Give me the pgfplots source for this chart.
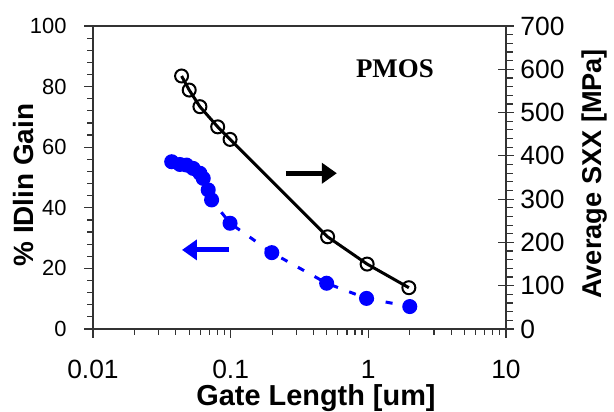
\documentclass[border=0pt]{standalone}
\usepackage{fontspec}
\setmainfont{Liberation Sans}
\newfontfamily\timesfont{Liberation Serif}
\usepackage{pgfplots}
\pgfplotsset{compat=1.18}
\usetikzlibrary{arrows.meta}
\definecolor{axisgray}{rgb}{0.2,0.2,0.2}
\begin{document}
\begin{tikzpicture}
\begin{semilogxaxis}[
  scale only axis, width=413bp, height=303bp,
  xmin=0.01, xmax=10,
  tick align=outside,
  major tick length=9bp, minor tick length=6bp,
  every tick/.style={axisgray, line width=1.2bp},
  axis line style={axisgray, line width=1.3bp},
  ymin=0, ymax=100, ytick={0,20,...,100}, minor y tick num=4,
  xtick={0.01,0.1,1,10}, xticklabels={0.01,0.1,1,10},
  yticklabels={0,20,40,60,80,100},
  xtick pos=left, ytick pos=left,
  xticklabel style={font=\fontsize{26.5}{26.5}\selectfont, yshift=-19bp},
  yticklabel style={font=\fontsize{22}{22}\selectfont, xshift=-14bp},
  ylabel={\% IDlin Gain},
  xlabel={Gate Length [um]},
  every axis y label/.style={at={(axis description cs:-0.167,0.475)}, rotate=90, anchor=center, font=\bfseries\fontsize{28}{28}\selectfont},
  every axis x label/.style={at={(axis description cs:0.54,-0.252)}, anchor=base, font=\bfseries\fontsize{29}{29}\selectfont},
  clip=false,
]
\addplot[blue, line width=3bp, dash pattern=on 7bp off 12bp, mark=*, mark size=6bp, mark options={solid, fill=blue, draw=blue}] coordinates {
(0.0373,55.2) (0.0428,54.3) (0.0478,54.1) (0.0534,53.0) (0.0598,51.4) (0.0632,49.7) (0.0687,45.9) (0.0727,42.6)
(0.099,34.9) (0.199,25.2) (0.498,15.1) (0.97,10.1) (2.0,7.4)
};
\draw[blue, line width=5bp, -{Triangle[length=15bp,width=20bp]}] (axis cs:0.0973,26.1) -- (axis cs:0.0443,26.1);
\draw[black, line width=5bp, -{Triangle[length=15bp,width=20bp]}] (axis cs:0.252,51.4) -- (axis cs:0.591,51.4);
\node[font=\timesfont\bfseries\fontsize{27}{27}\selectfont] at (axis cs:1.56,85.8) {PMOS};
\end{semilogxaxis}
\begin{semilogxaxis}[
  scale only axis, width=413bp, height=303bp,
  xmin=0.01, xmax=10,
  tick align=center,
  major tick length=16bp, minor tick length=7bp,
  every tick/.style={axisgray, line width=1.2bp},
  every minor tick/.style={xshift=3.5bp},
  axis line style={axisgray, line width=1.3bp},
  ymin=0, ymax=700, ytick={0,100,...,700}, minor y tick num=4,
  yticklabels={0,100,200,300,400,500,600,700},
  axis y line*=right, axis x line=none,
  yticklabel style={font=\fontsize{26.5}{26.5}\selectfont, xshift=3bp},
  ylabel={Average SXX [MPa]},
  every axis y label/.style={at={(axis description cs:1.2155,0.512)}, rotate=90, anchor=center, font=\bfseries\fontsize{27.3}{27.3}\selectfont},
]
\addplot[black, line width=3bp, mark=o, mark size=6.5bp, mark options={line width=2bp, fill=none}] coordinates {
(0.044,584.5) (0.050,552) (0.0598,513.6) (0.0805,467) (0.099,438) (0.506,213) (0.98,150) (1.97,95.4)
};
\end{semilogxaxis}
\pgfresetboundingbox
\path[use as bounding box] ([xshift=-93bp,yshift=-83bp]current axis.south west) rectangle ([xshift=108bp,yshift=26bp]current axis.north east);
\end{tikzpicture}
\end{document}
